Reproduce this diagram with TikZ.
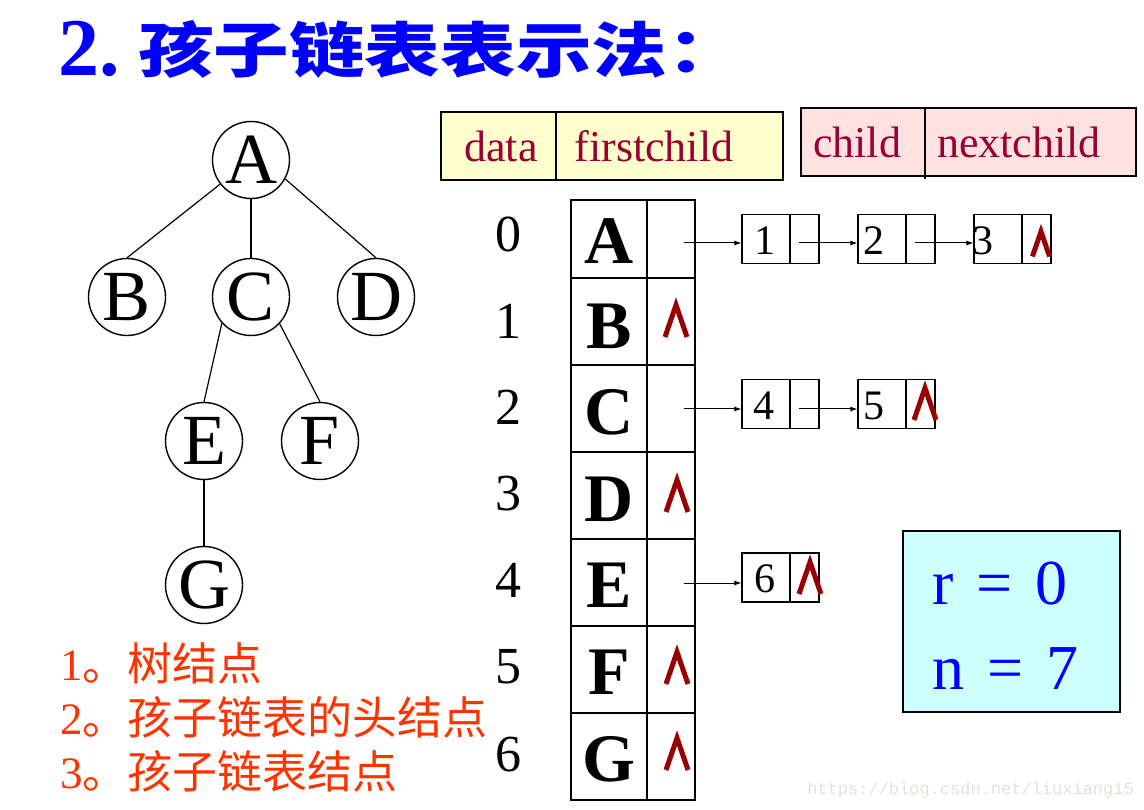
\documentclass[tikz,border=0pt]{standalone}
\usepackage{fontspec}
\usepackage{graphicx}
\setmainfont{Liberation Serif}
\newfontfamily\cjk{Noto Sans CJK SC}
\newfontfamily\wmfont{Liberation Mono}
\usetikzlibrary{arrows.meta}
\definecolor{titleblue}{HTML}{0000FF}
\definecolor{hdrtext}{HTML}{990033}
\definecolor{hdryellow}{HTML}{FFFFCC}
\definecolor{hdrpink}{HTML}{FDE2E0}
\definecolor{nilred}{HTML}{990000}
\definecolor{rnbox}{HTML}{CCFFFF}
\definecolor{notered}{HTML}{FF3300}
\definecolor{wmgrey}{HTML}{E2E2DA}
\tikzset{
  x=1pt, y=-1pt,
  tnode/.style={circle, draw, line width=1.4pt, minimum size=77pt, inner sep=0pt, font=\fontsize{72}{72}\selectfont},
  tedge/.style={line width=1.2pt},
  hcell/.style={rectangle, draw, line width=2pt, inner sep=0pt},
  htext/.style={anchor=base, text=hdrtext, inner sep=0pt, font=\fontsize{44}{44}\selectfont},
  idx/.style={inner sep=0pt, font=\fontsize{52}{52}\selectfont},
  dcell/.style={rectangle, draw, line width=1.5pt, minimum width=76pt, inner sep=0pt},
  pcell/.style={rectangle, draw, line width=1.5pt, minimum width=48pt, inner sep=0pt},
  dletter/.style={inner sep=0pt, font=\bfseries\fontsize{68}{68}\selectfont},
  lcell/.style={rectangle, draw, line width=1.2pt, minimum width=48pt, minimum height=49pt, inner sep=0pt},
  lpcell/.style={rectangle, draw, line width=1.2pt, minimum width=29pt, minimum height=49pt, inner sep=0pt},
  lnum/.style={inner sep=0pt, font=\fontsize{42}{42}\selectfont},
  link/.style={line width=1pt, -{Latex[length=7pt,width=5pt]}},
  nil/.pic={\draw[nilred, line width=5pt] (-11,16) -- (0,-16) -- (11,16);},
  note/.style={anchor=base west, inner sep=0pt, text=notered, font=\fontsize{45}{45}\selectfont},
  rntext/.style={anchor=base west, inner sep=0pt, text=titleblue, font=\fontsize{64}{64}\selectfont}
}
\begin{document}
\begin{tikzpicture}
\useasboundingbox (0,0) rectangle (1144,810);
% title
\node[anchor=base west, inner sep=0pt, text=titleblue, font=\bfseries\fontsize{82}{82}\selectfont] (t2) at (58,76) {2.};
\node[anchor=base west, inner sep=0pt, text=titleblue, font=\cjk\bfseries\fontsize{60}{60}\selectfont] (tc) at (138,73) {\scalebox{1.26}[1]{孩子链表表示法：}};
% tree
\node[tnode] (A) at (251,160) {A};
\node[tnode] (B) at (127,297) {B};
\node[tnode] (C) at (251,297) {C};
\node[tnode] (D) at (376,297) {D};
\node[tnode] (E) at (204,441) {E};
\node[tnode] (F) at (320,441) {F};
\node[tnode] (G) at (204,585) {G};
\draw[tedge] (A.218) -- (B.north);
\draw[tedge] (A.south) -- (C.north);
\draw[tedge] (A.331) -- (D.north);
\draw[tedge] (C.222) -- (E.north);
\draw[tedge] (C.317) -- (F.north);
\draw[tedge] (E.south) -- (G.north);
% header boxes
\node[hcell, fill=hdryellow, minimum width=115pt, minimum height=68pt] (hd) at (498.5,146) {};
\node[hcell, fill=hdryellow, minimum width=227pt, minimum height=68pt] (hf) at (669.5,146) {};
\node[htext] (thd) at (501,162) {data};
\node[htext] (thf) at (654,162) {firstchild};
\node[hcell, fill=hdrpink, minimum width=335pt, minimum height=68pt] (hp) at (968.5,142) {};
\coordinate (pdt) at (925,108);
\coordinate (pdb) at (925,179);
\draw[line width=1.5pt] (pdt) -- (pdb);
\node[htext] (thc) at (857,158) {child};
\node[htext] (thn) at (1019,158) {nextchild};
% indices
\node[idx] (i0) at (508,234) {0};
\node[idx] (i1) at (508,321) {1};
\node[idx] (i2) at (508,407) {2};
\node[idx] (i3) at (508,494) {3};
\node[idx] (i4) at (508,580) {4};
\node[idx] (i5) at (508,667) {5};
\node[idx] (i6) at (508,755) {6};
% table
\node[dcell, minimum height=78pt] (d0) at (609,239) {};
\node[pcell, minimum height=78pt] (p0) at (671,239) {};
\node[dcell, minimum height=87pt] (d1) at (609,321.5) {};
\node[pcell, minimum height=87pt] (p1) at (671,321.5) {};
\node[dcell, minimum height=87pt] (d2) at (609,408.5) {};
\node[pcell, minimum height=87pt] (p2) at (671,408.5) {};
\node[dcell, minimum height=87pt] (d3) at (609,495.5) {};
\node[pcell, minimum height=87pt] (p3) at (671,495.5) {};
\node[dcell, minimum height=87pt] (d4) at (609,582.5) {};
\node[pcell, minimum height=87pt] (p4) at (671,582.5) {};
\node[dcell, minimum height=87pt] (d5) at (609,669.5) {};
\node[pcell, minimum height=87pt] (p5) at (671,669.5) {};
\node[dcell, minimum height=87pt] (d6) at (609,756.5) {};
\node[pcell, minimum height=87pt] (p6) at (671,756.5) {};
\node[dletter] (lA) at (609,241) {A};
\node[dletter] (lB) at (609,326) {B};
\node[dletter] (lC) at (609,412) {C};
\node[dletter] (lD) at (609,499) {D};
\node[dletter] (lE) at (609,585) {E};
\node[dletter] (lF) at (609,672) {F};
\node[dletter] (lG) at (609,759) {G};
\pic at (676,321) {nil};
\pic at (677,496) {nil};
\pic at (677,668) {nil};
\pic at (677,754) {nil};
% list row 0
\node[lcell] (a1) at (766,239) {};
\node[lpcell] (a1p) at (804.5,239) {};
\node[lcell] (a2) at (882,239) {};
\node[lpcell] (a2p) at (920.5,239) {};
\node[lcell] (a3) at (998,239) {};
\node[lpcell] (a3p) at (1036.5,239) {};
\node[lnum] at (765,241) {1};
\node[lnum] at (874,241) {2};
\node[lnum] at (983,241) {3};
\pic[scale=0.78] at (1041,244) {nil};
\coordinate (s0) at (684,243);
\coordinate (s1) at (799,243);
\coordinate (s2) at (915,243);
\draw[link] (s0) -- (s0 -| a1.west);
\draw[link] (s1) -- (s1 -| a2.west);
\draw[link] (s2) -- (s2 -| a3.west);
% list row 2
\node[lcell] (c4) at (766,404) {};
\node[lpcell] (c4p) at (804.5,404) {};
\node[lcell] (c5) at (882,404) {};
\node[lpcell] (c5p) at (920.5,404) {};
\node[lnum] at (764,406) {4};
\node[lnum] at (874,406) {5};
\pic at (925,404) {nil};
\coordinate (s3) at (684,409);
\coordinate (s4) at (799,409);
\draw[link] (s3) -- (s3 -| c4.west);
\draw[link] (s4) -- (s4 -| c5.west);
% list row 4
\node[lcell] (e6) at (766,577.5) {};
\node[lpcell] (e6p) at (804.5,577.5) {};
\node[lnum] at (765,579) {6};
\pic at (810,578) {nil};
\coordinate (s5) at (684,583);
\draw[link] (s5) -- (s5 -| e6.west);
% r n box
\node[rectangle, draw, line width=1.5pt, fill=rnbox, minimum width=217pt, minimum height=181pt] (rn) at (1011.5,621.5) {};
\node[rntext] (rr) at (932,604) {r\hspace{0.36em}=\hspace{0.36em}0};
\node[rntext] (nn) at (932,689) {n\hspace{0.36em}=\hspace{0.36em}7};
% notes
\node[note] (n1) at (60,680) {1{\cjk 。树结点}};
\node[note] (n2) at (60,734) {2{\cjk 。孩子链表的头结点}};
\node[note] (n3) at (60,788) {3{\cjk 。孩子链表结点}};
% watermark
\node[anchor=east, inner sep=0pt, text=wmgrey, font=\wmfont\fontsize{17}{17}\selectfont] (wm) at (1134,790) {https://blog.csdn.net/liuxiang15};
\end{tikzpicture}
\end{document}
